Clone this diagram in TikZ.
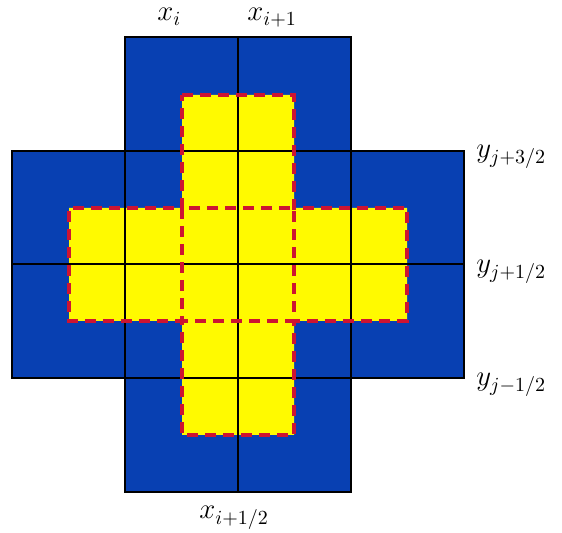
\documentclass[tikz,border=0pt]{standalone}
\begin{document}
\begin{tikzpicture}[x=0.5pt,y=-0.5pt,
  grid line/.style={line width=1.2pt,black},
  dashbox/.style={draw=dashred,line width=2.2pt,dash pattern=on 5.5pt off 3.5pt},
  lbl/.style={anchor=base west,inner sep=0pt,font=\fontsize{14.5}{16}\selectfont}]
\definecolor{cellblue}{RGB}{8,64,178}
\definecolor{dashred}{RGB}{205,20,50}
\definecolor{cellyellow}{RGB}{255,250,0}
\useasboundingbox (0,0) rectangle (562,533);
% blue cross
\fill[cellblue] (125,37) -- (351,37) -- (351,151) -- (464,151) -- (464,378) -- (351,378)
  -- (351,492) -- (125,492) -- (125,378) -- (12,378) -- (12,151) -- (125,151) -- cycle;
% yellow cross
\fill[cellyellow] (182,95) -- (294,95) -- (294,208) -- (407,208) -- (407,321) -- (294,321)
  -- (294,435) -- (182,435) -- (182,321) -- (69,321) -- (69,208) -- (182,208) -- cycle;
% grid
\draw[grid line] (125,37) -- (351,37) -- (351,151) -- (464,151) -- (464,378) -- (351,378)
  -- (351,492) -- (125,492) -- (125,378) -- (12,378) -- (12,151) -- (125,151) -- cycle;
\draw[grid line] (238,37) -- (238,492);
\draw[grid line] (125,151) -- (125,378);
\draw[grid line] (351,151) -- (351,378);
\draw[grid line] (125,151) -- (351,151);
\draw[grid line] (12,264) -- (464,264);
\draw[grid line] (125,378) -- (351,378);
% dashed outlines
\draw[dashbox] (182,95) -- (294,95) -- (294,208) -- (407,208) -- (407,321) -- (294,321)
  -- (294,435) -- (182,435) -- (182,321) -- (69,321) -- (69,208) -- (182,208) -- cycle;
\draw[dashbox] (182,208) rectangle (294,321);
% labels
\node[lbl] (xi) at (157,21) {$x_i$};
\node[lbl] (xip) at (247,21) {$x_{i+1}$};
\node[lbl] (xih) at (199,519) {$x_{i+1/2}$};
\node[lbl] (y3) at (476,158) {$y_{j+3/2}$};
\node[lbl] (y1) at (476,273) {$y_{j+1/2}$};
\node[lbl] (ym) at (476,386) {$y_{j-1/2}$};
\end{tikzpicture}
\end{document}
